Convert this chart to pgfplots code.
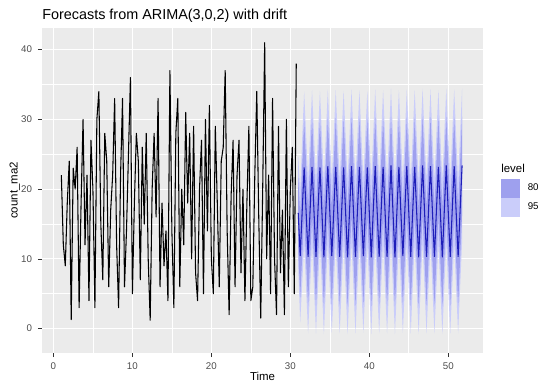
\documentclass[border=0pt]{standalone}
\usepackage{pgfplots}
\pgfplotsset{compat=1.18}
\usepackage{pgfplotstable}
\usepgfplotslibrary{fillbetween}
\usepackage{fontspec}
\setmainfont{Liberation Sans}
\definecolor{panelgrey}{HTML}{EBEBEB}
\definecolor{tickgrey}{HTML}{4D4D4D}
\definecolor{tickmark}{HTML}{333333}
\definecolor{c80}{RGB}{158,160,238}
\definecolor{c95}{RGB}{202,205,250}
\definecolor{meanblue}{RGB}{30,30,185}

\pgfplotstableread{
t y
1.00 22
1.25 12
1.50 9
1.75 18
2.00 24
2.25 1.3
2.50 23
2.75 20
3.00 26
3.25 3
3.50 18
3.75 30
4.00 12
4.25 22
4.50 4
4.75 27
5.00 20
5.25 3
5.50 30
5.75 34
6.00 15
6.25 7
6.50 28
6.75 24
7.00 6
7.25 17
7.50 22
7.75 33
8.00 12
8.25 3
8.50 22
8.75 33
9.00 6
9.25 14
9.50 25
9.75 36
10.00 5
10.25 18
10.50 28
10.75 24
11.00 7
11.25 26
11.50 15
11.75 28
12.00 10
12.25 1.2
12.50 20
12.75 28
13.00 16
13.25 33
13.50 6
13.75 18
14.00 9
14.25 14
14.50 4
14.75 37
15.00 14
15.25 3
15.50 28
15.75 33
16.00 6
16.25 20
16.50 12
16.75 31
17.00 18
17.25 28
17.50 10
17.75 29
18.00 8
18.25 4
18.50 20
18.75 27
19.00 5
19.25 30
19.50 14
19.75 32
20.00 10
20.25 5
20.50 29
20.75 18
21.00 6
21.25 24
21.50 26
21.75 37
22.00 14
22.25 2
22.50 19
22.75 27
23.00 6
23.25 22
23.50 27
23.75 8
24.00 20
24.25 4
24.50 18
24.75 29
25.00 4
25.25 6
25.50 22
25.75 34
26.00 16
26.25 1.5
26.50 20
26.75 41
27.00 10
27.25 22
27.50 5
27.75 33
28.00 10
28.25 2
28.50 29
28.75 8
29.00 17
29.25 2
29.50 30
29.75 6
30.00 20
30.25 26
30.50 5
30.75 38
}\history

\pgfplotstableread{
t m l80 h80 l95 h95
31.00 16.6 11.6 21.6 8.6 24.6
31.25 10.4 4.4 16.4 0.9 19.9
31.50 16.8 10.3 23.3 6.4 27.2
31.75 23.1 16.2 30.0 12.2 34.0
32.00 16.7 9.7 23.7 5.7 27.7
32.25 10.3 3.3 17.3 -0.7 21.3
32.50 16.9 9.9 23.9 5.9 27.9
32.75 23.2 16.2 30.2 12.2 34.2
33.00 16.7 9.7 23.7 5.7 27.7
33.25 10.3 3.3 17.3 -0.7 21.3
33.50 16.9 9.9 23.9 5.9 27.9
33.75 23.1 16.1 30.1 12.1 34.1
34.00 16.7 9.7 23.7 5.7 27.7
34.25 10.2 3.2 17.2 -0.8 21.2
34.50 16.9 9.9 23.9 5.9 27.9
34.75 23.3 16.3 30.3 12.3 34.3
35.00 16.7 9.7 23.7 5.7 27.7
35.25 10.4 3.4 17.4 -0.6 21.4
35.50 16.9 9.9 23.9 5.9 27.9
35.75 23.2 16.2 30.2 12.2 34.2
36.00 16.7 9.7 23.7 5.7 27.7
36.25 10.3 3.3 17.3 -0.7 21.3
36.50 16.9 9.9 23.9 5.9 27.9
36.75 23.1 16.1 30.1 12.1 34.1
37.00 16.7 9.7 23.7 5.7 27.7
37.25 10.2 3.2 17.2 -0.8 21.2
37.50 16.9 9.9 23.9 5.9 27.9
37.75 23.3 16.3 30.3 12.3 34.3
38.00 16.7 9.7 23.7 5.7 27.7
38.25 10.3 3.3 17.3 -0.7 21.3
38.50 16.9 9.9 23.9 5.9 27.9
38.75 23.2 16.2 30.2 12.2 34.2
39.00 16.7 9.7 23.7 5.7 27.7
39.25 10.4 3.4 17.4 -0.6 21.4
39.50 16.9 9.9 23.9 5.9 27.9
39.75 23.1 16.1 30.1 12.1 34.1
40.00 16.7 9.7 23.7 5.7 27.7
40.25 10.2 3.2 17.2 -0.8 21.2
40.50 16.9 9.9 23.9 5.9 27.9
40.75 23.3 16.3 30.3 12.3 34.3
41.00 16.7 9.7 23.7 5.7 27.7
41.25 10.3 3.3 17.3 -0.7 21.3
41.50 16.9 9.9 23.9 5.9 27.9
41.75 23.2 16.2 30.2 12.2 34.2
42.00 16.7 9.7 23.7 5.7 27.7
42.25 10.3 3.3 17.3 -0.7 21.3
42.50 16.9 9.9 23.9 5.9 27.9
42.75 23.4 16.4 30.4 12.4 34.4
43.00 16.7 9.7 23.7 5.7 27.7
43.25 10.2 3.2 17.2 -0.8 21.2
43.50 16.9 9.9 23.9 5.9 27.9
43.75 23.2 16.2 30.2 12.2 34.2
44.00 16.7 9.7 23.7 5.7 27.7
44.25 10.4 3.4 17.4 -0.6 21.4
44.50 16.9 9.9 23.9 5.9 27.9
44.75 23.3 16.3 30.3 12.3 34.3
45.00 16.7 9.7 23.7 5.7 27.7
45.25 10.3 3.3 17.3 -0.7 21.3
45.50 16.9 9.9 23.9 5.9 27.9
45.75 23.2 16.2 30.2 12.2 34.2
46.00 16.7 9.7 23.7 5.7 27.7
46.25 10.2 3.2 17.2 -0.8 21.2
46.50 16.9 9.9 23.9 5.9 27.9
46.75 23.4 16.4 30.4 12.4 34.4
47.00 16.7 9.7 23.7 5.7 27.7
47.25 10.3 3.3 17.3 -0.7 21.3
47.50 16.9 9.9 23.9 5.9 27.9
47.75 23.3 16.3 30.3 12.3 34.3
48.00 16.7 9.7 23.7 5.7 27.7
48.25 10.3 3.3 17.3 -0.7 21.3
48.50 16.9 9.9 23.9 5.9 27.9
48.75 23.2 16.2 30.2 12.2 34.2
49.00 16.7 9.7 23.7 5.7 27.7
49.25 10.2 3.2 17.2 -0.8 21.2
49.50 16.9 9.9 23.9 5.9 27.9
49.75 23.4 16.4 30.4 12.4 34.4
50.00 16.7 9.7 23.7 5.7 27.7
50.25 10.3 3.3 17.3 -0.7 21.3
50.50 16.9 9.9 23.9 5.9 27.9
50.75 23.3 16.3 30.3 12.3 34.3
51.00 16.7 9.7 23.7 5.7 27.7
51.25 10.3 3.3 17.3 -0.7 21.3
51.50 16.9 9.9 23.9 5.9 27.9
51.75 23.4 16.4 30.4 12.4 34.4
}\fc

\begin{document}
\begin{tikzpicture}
\begin{axis}[
  at={(0pt,0pt)}, anchor=south west,
  scale only axis, width=330.75pt, height=243.75pt,
  xmin=-1.45, xmax=54.4, ymin=-3.5, ymax=43.1,
  axis background/.style={fill=panelgrey},
  axis line style={draw=none},
  xtick={0,10,...,50}, ytick={0,10,...,40},
  minor xtick={5,15,...,45}, minor ytick={5,15,25,35},
  grid=both,
  major grid style={white, line width=0.9pt},
  minor grid style={white, line width=0.45pt},
  tick style={tickmark, line width=0.5pt},
  major tick length=3pt, minor tick length=0pt,
  tick align=outside,
  xtick pos=bottom, ytick pos=left,
  /pgf/number format/assume math mode=true,
  ticklabel style={font=\fontsize{7.3}{8}\selectfont, text=tickgrey},
  xticklabel style={anchor=north, yshift=-1pt},
  yticklabel style={anchor=east, xshift=-1pt},
  legend style={at={(1.0408,0.5354)}, anchor=north west, draw=none, fill=none,
    inner sep=0pt, row sep=0pt, column sep=6pt,
    font=\fontsize{7.3}{8}\selectfont,
    nodes={inner sep=0pt}},
  legend cell align=left,
]
\addplot[name path=h95, draw=none, forget plot] table[x=t, y=h95] {\fc};
\addplot[name path=l95, draw=none, forget plot] table[x=t, y=l95] {\fc};
\addplot[name path=h80, draw=none, forget plot] table[x=t, y=h80] {\fc};
\addplot[name path=l80, draw=none, forget plot] table[x=t, y=l80] {\fc};
\addplot[fill=c95, draw=none, forget plot] fill between[of=h95 and l95];
\addplot[fill=c80, draw=none, forget plot] fill between[of=h80 and l80];
\addplot[meanblue, line width=0.8pt, forget plot] table[x=t, y=m] {\fc};
\addplot[black, line width=0.8pt, line join=round, forget plot] table[x=t, y=y] {\history};
\addlegendimage{legend image code/.code={\fill[c80] (0pt,-6.75pt) rectangle (13.5pt,6.75pt);}}
\addlegendentry{80}
\addlegendimage{legend image code/.code={\fill[c95] (0pt,-6.75pt) rectangle (13.5pt,6.75pt);}}
\addlegendentry{95}
\end{axis}
\node[anchor=west, inner sep=0pt, font=\fontsize{10.8}{12}\selectfont] at (0pt,253pt) {Forecasts from ARIMA(3,0,2) with drift};
\node[anchor=center, inner sep=0pt, font=\fontsize{8.6}{10}\selectfont] at (165.4pt,-17.6pt) {Time};
\node[anchor=center, inner sep=0pt, rotate=90, font=\fontsize{8.6}{10}\selectfont] at (-20.5pt,121.9pt) {count\_ma2};
\node[anchor=west, inner sep=0pt, font=\fontsize{8.6}{10}\selectfont] at (344.25pt,138.75pt) {level};
\pgfresetboundingbox
\path (-31.5pt,-21.75pt) rectangle (378pt,264.75pt);
\end{tikzpicture}
\end{document}
